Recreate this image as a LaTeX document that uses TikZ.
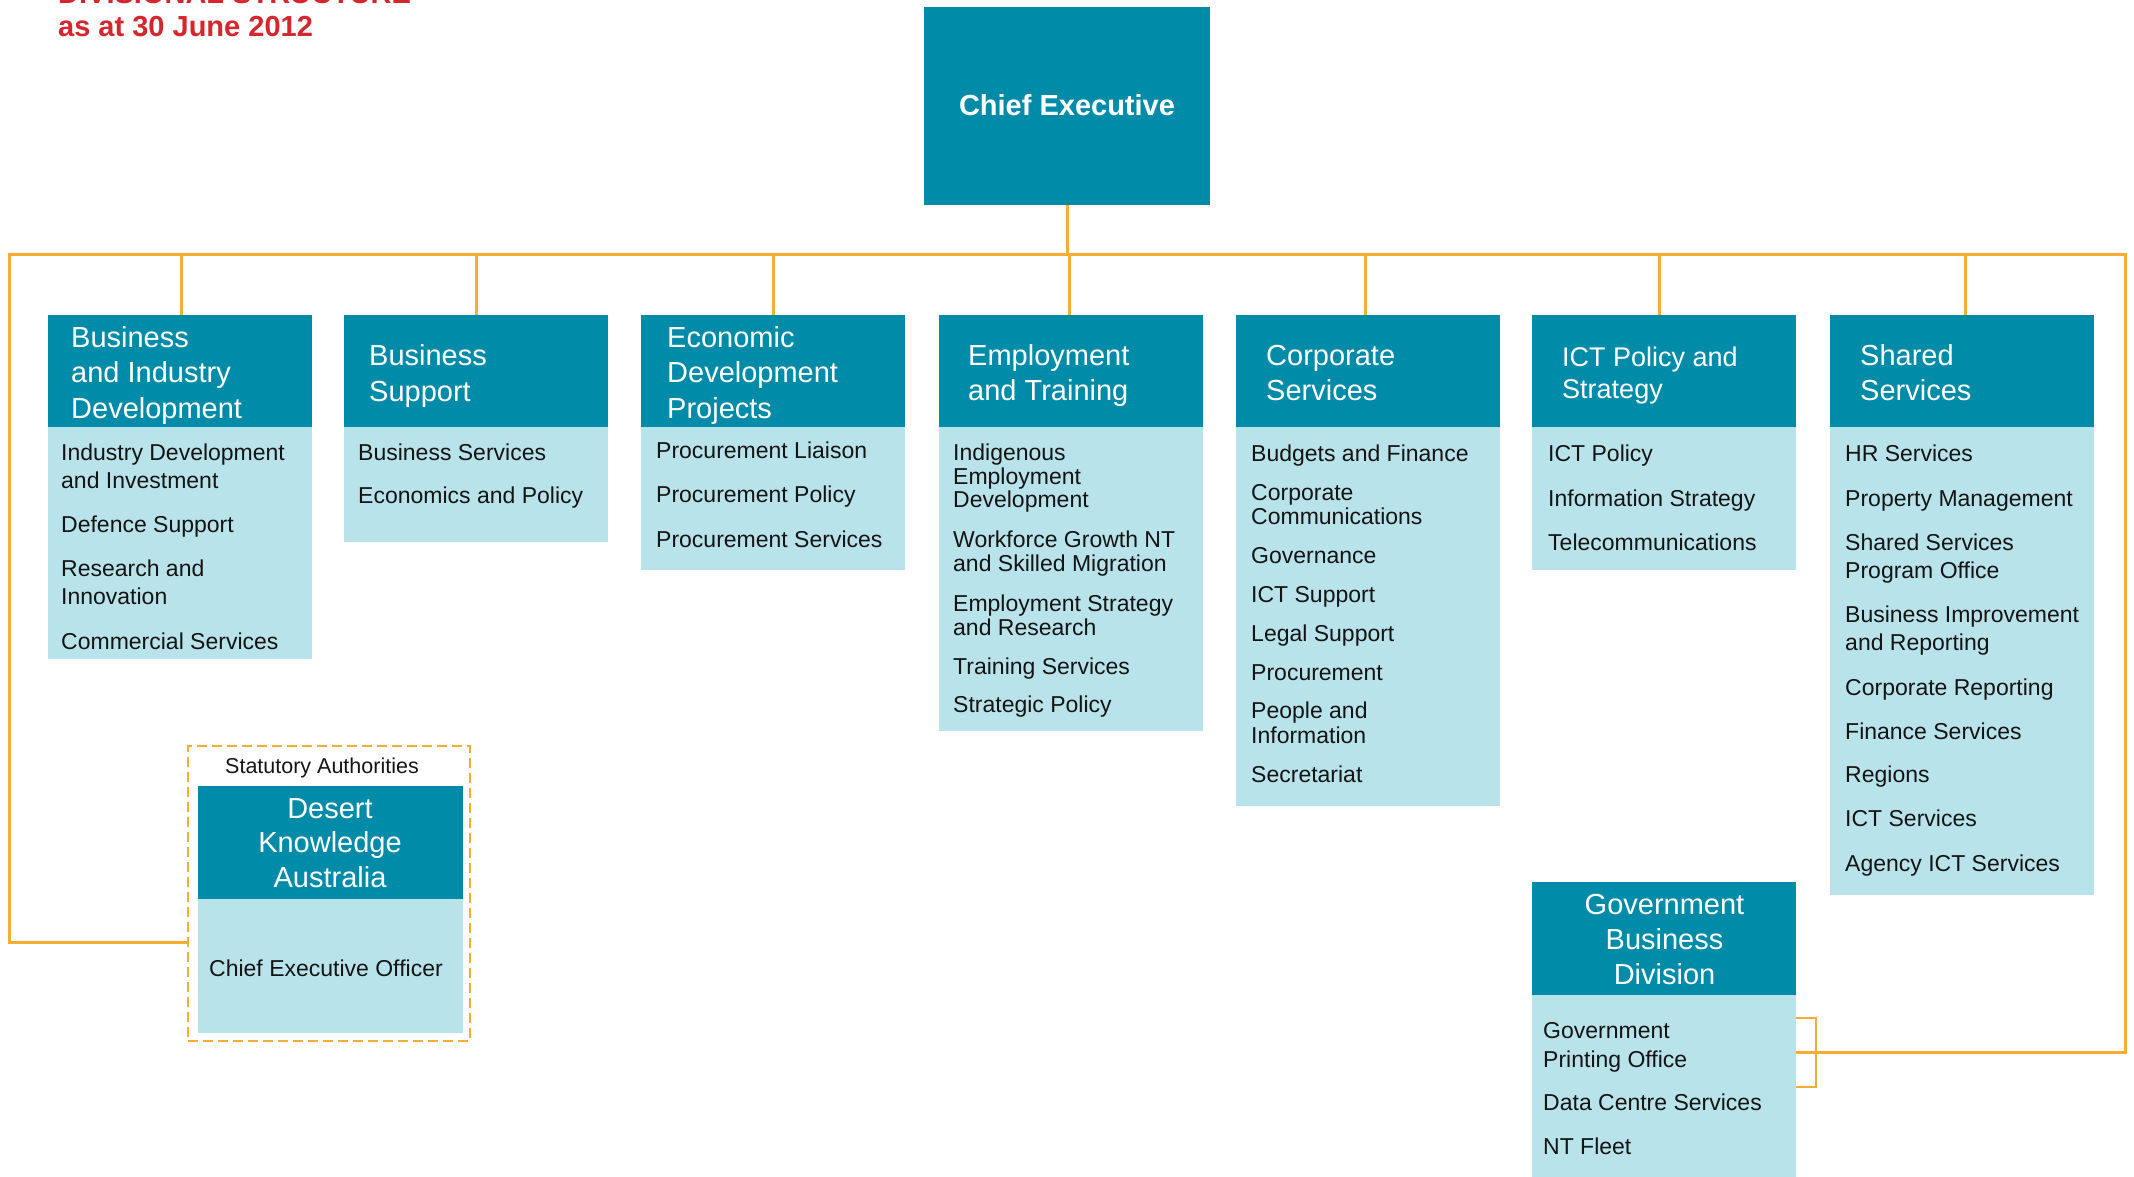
\documentclass[tikz,border=0pt]{standalone}
\usepackage{fontspec}
\setmainfont{Liberation Sans}

\definecolor{divteal}{RGB}{0,139,168}
\definecolor{divlight}{RGB}{185,227,234}
\definecolor{linkorange}{RGB}{248,172,52}
\definecolor{titlered}{RGB}{213,38,45}
\definecolor{bodyink}{RGB}{20,20,20}

% stacked lines with a fixed baseline distance; the box baseline is the first line
\newcommand\lstack[2]{\vtop{\baselineskip=#1\relax\halign{##\hfil\cr#2\crcr}}}
\newcommand\cstack[2]{\vtop{\baselineskip=#1\relax\halign{\hfil##\hfil\cr#2\crcr}}}

\tikzset{
  box/.style={anchor=north west, inner sep=0pt, outer sep=0pt, minimum width=264pt},
  hdr/.style={box, fill=divteal},
  bdy/.style={box, fill=divlight},
  htxt/.style={anchor=base west, inner sep=0pt, text=white, font=\fontsize{29}{35}\selectfont},
  hctxt/.style={anchor=base, inner sep=0pt, text=white, font=\fontsize{29}{35}\selectfont},
  btxt/.style={anchor=base west, inner sep=0pt, text=bodyink, font=\fontsize{23}{24}\selectfont,
               yshift=-1.5pt},
  link/.style={draw=linkorange, line width=3pt},
  ttl/.style={anchor=base west, inner sep=0pt, text=titlered, font=\fontsize{29}{33}\selectfont\bfseries},
}

\begin{document}
\begin{tikzpicture}[x=1pt, y=-1pt]
\useasboundingbox (0,0) rectangle (2134,1176);

% heading
\node[ttl] (ttlA) at (58,3) {DIVISIONAL STRUCTURE};
\node[ttl] (ttlB) at (58,36) {as at 30 June 2012};

% top of the organisation
\node[anchor=north west, inner sep=0pt, outer sep=0pt, fill=divteal,
      minimum width=286pt, minimum height=198pt] (ce) at (924,7) {};
\node[anchor=base, inner sep=0pt, text=white, font=\fontsize{29}{35}\selectfont\bfseries]
      (cet) at (1067,115) {Chief Executive};

% division boxes: header and list of branches
\node[hdr, minimum height=112pt] (h1) at (47.5,315) {};
\node[bdy, minimum height=232pt] (b1) at (47.5,427) {};
\node[hdr, minimum height=112pt] (h2) at (344,315) {};
\node[bdy, minimum height=115pt] (b2) at (344,427) {};
\node[hdr, minimum height=112pt] (h3) at (641,315) {};
\node[bdy, minimum height=143pt] (b3) at (641,427) {};
\node[hdr, minimum height=112pt] (h4) at (939,315) {};
\node[bdy, minimum height=304pt] (b4) at (939,427) {};
\node[hdr, minimum height=112pt] (h5) at (1236,315) {};
\node[bdy, minimum height=379pt] (b5) at (1236,427) {};
\node[hdr, minimum height=112pt] (h6) at (1532,315) {};
\node[bdy, minimum height=143pt] (b6) at (1532,427) {};
\node[hdr, minimum height=112pt] (h7) at (1830,315) {};
\node[bdy, minimum height=468pt] (b7) at (1830,427) {};

% Government Business Division
\node[hdr, minimum height=113pt] (h8) at (1532,882) {};
\node[bdy, minimum height=200pt] (b8) at (1532,995) {};

% Statutory Authorities
\node[anchor=north west, inner sep=0pt, outer sep=0pt, draw=linkorange, line width=2.5pt,
      dash pattern=on 10pt off 5pt, minimum width=282pt, minimum height=295pt] (sa) at (188,746) {};
\node[anchor=north west, inner sep=0pt, outer sep=0pt, fill=divteal,
      minimum width=265pt, minimum height=113pt] (dkh) at (198,786) {};
\node[anchor=north west, inner sep=0pt, outer sep=0pt, fill=divlight,
      minimum width=265pt, minimum height=134pt] (dkb) at (198,899) {};

% header texts
\node[htxt] (h1t) at (71,347) {\lstack{35.5pt}{Business\cr and Industry\cr Development}};
\node[htxt] (h2t) at (369,365) {\lstack{36pt}{Business\cr Support}};
\node[htxt] (h3t) at (667,347) {\lstack{35.5pt}{Economic\cr Development\cr Projects}};
\node[htxt] (h4t) at (968,365) {\lstack{35.5pt}{Employment\cr and Training}};
\node[htxt] (h5t) at (1266,365) {\lstack{35.5pt}{Corporate\cr Services}};
\node[htxt, font=\fontsize{27}{32}\selectfont] (h6t) at (1562,366) {\lstack{32pt}{ICT Policy and\cr Strategy}};
\node[htxt] (h7t) at (1860,365) {\lstack{35.5pt}{Shared\cr Services}};
\node[hctxt] (h8t) at (1664.5,914) {\cstack{35pt}{Government\cr Business\cr Division}};
\node[hctxt] (dkt) at (330,818) {\cstack{34.5pt}{Desert\cr Knowledge\cr Australia}};
\node[anchor=base, inner sep=0pt, text=bodyink, font=\fontsize{21.5}{24}\selectfont]
      (sat) at (322,773) {Statutory Authorities};
\node[btxt] (ceo) at (209,975) {Chief Executive Officer};

% Business and Industry Development
\node[btxt] (i11) at (61,459) {\lstack{28pt}{Industry Development\cr and Investment}};
\node[btxt] (i12) at (61,531) {Defence Support};
\node[btxt] (i13) at (61,575) {\lstack{28pt}{Research and\cr Innovation}};
\node[btxt] (i14) at (61,648) {Commercial Services};

% Business Support
\node[btxt] (i21) at (358,459) {Business Services};
\node[btxt] (i22) at (358,502) {Economics and Policy};

% Economic Development Projects
\node[btxt] (i31) at (656,457) {Procurement Liaison};
\node[btxt] (i32) at (656,501) {Procurement Policy};
\node[btxt] (i33) at (656,546) {Procurement Services};

% Employment and Training
\node[btxt] (i41) at (953,459) {\lstack{23.5pt}{Indigenous\cr Employment\cr Development}};
\node[btxt] (i42) at (953,546) {\lstack{24pt}{Workforce Growth NT\cr and Skilled Migration}};
\node[btxt] (i43) at (953,610) {\lstack{23.5pt}{Employment Strategy\cr and Research}};
\node[btxt] (i44) at (953,673) {Training Services};
\node[btxt] (i45) at (953,711) {Strategic Policy};

% Corporate Services
\node[btxt] (i51) at (1251,460) {Budgets and Finance};
\node[btxt] (i52) at (1251,499) {\lstack{24pt}{Corporate\cr Communications}};
\node[btxt] (i53) at (1251,562) {Governance};
\node[btxt] (i54) at (1251,601) {ICT Support};
\node[btxt] (i55) at (1251,640) {Legal Support};
\node[btxt] (i56) at (1251,679) {Procurement};
\node[btxt] (i57) at (1251,717) {\lstack{25pt}{People and\cr Information}};
\node[btxt] (i58) at (1251,781) {Secretariat};

% ICT Policy and Strategy
\node[btxt] (i61) at (1548,460) {ICT Policy};
\node[btxt] (i62) at (1548,505) {Information Strategy};
\node[btxt] (i63) at (1548,549) {Telecommunications};

% Shared Services
\node[btxt] (i71) at (1845,460) {HR Services};
\node[btxt] (i72) at (1845,505) {Property Management};
\node[btxt] (i73) at (1845,549) {\lstack{28pt}{Shared Services\cr Program Office}};
\node[btxt] (i74) at (1845,621) {\lstack{28pt}{Business Improvement\cr and Reporting}};
\node[btxt] (i75) at (1845,694) {Corporate Reporting};
\node[btxt] (i76) at (1845,738) {Finance Services};
\node[btxt] (i77) at (1845,781) {Regions};
\node[btxt] (i78) at (1845,825) {ICT Services};
\node[btxt] (i79) at (1845,870) {Agency ICT Services};

% Government Business Division
\node[btxt] (i81) at (1543,1037) {\lstack{29pt}{Government\cr Printing Office}};
\node[btxt] (i82) at (1543,1109) {Data Centre Services};
\node[btxt] (i83) at (1543,1153) {NT Fleet};

% connectors
\coordinate (busL) at (9,254.5);
\coordinate (busR) at (2125,254.5);
\coordinate (brkT) at (1816,1018);
\coordinate (brkB) at (1816,1087);

\draw[link] (ce.south) -- (ce.south |- busL);
\foreach \n/\dx in {1/1.5, 2/0, 3/0, 4/-2, 5/-3, 6/-4.5, 7/3}{
  \draw[link] ([xshift=\dx pt]h\n.north) -- ([xshift=\dx pt]h\n.north |- busL);
}
\draw[link] (sa.west |- 0,942) -- (busL |- 0,942) -- (busL) -- (busR)
            -- (busR |- 0,1052) -- (b8.east |- 0,1052);
\draw[link, line width=2.5pt] (b8.east |- brkT) -- (brkT) -- (brkB) -- (b8.east |- brkB);
\end{tikzpicture}
\end{document}
